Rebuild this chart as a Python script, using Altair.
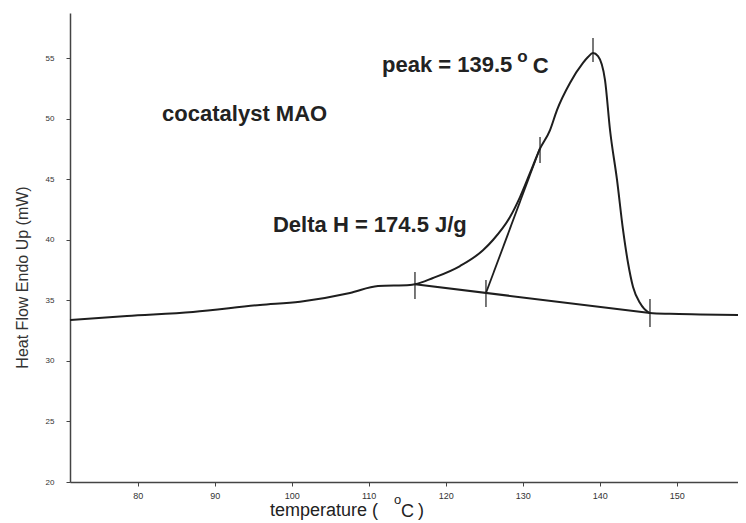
import altair as alt
import pandas as pd

# DSC curve (temperature in degC, heat flow in mW)
curve_t = [71.21, 78.61, 87.18, 95.88, 101.08, 107.57, 111.21, 115.36, 116.01, 118.35,
           121.86, 124.84, 126.14, 128.35, 129.65, 130.95, 132.25, 133.55, 134.45, 136.14,
           137.83, 138.48, 139.13, 139.78, 140.69, 141.34, 142.25, 143.03, 143.68, 144.33,
           145.24, 146.27, 146.53, 149.13, 153.03, 157.96]
curve_hf = [33.39, 33.72, 34.05, 34.63, 34.90, 35.62, 36.20, 36.28, 36.34, 36.86,
            37.85, 39.15, 40.00, 41.90, 43.55, 45.54, 47.55, 49.09, 50.74, 52.98,
            54.63, 55.12, 55.45, 55.20, 53.22, 49.09, 44.96, 40.83, 38.10, 36.12,
            34.79, 34.05, 33.97, 33.90, 33.85, 33.80]

# integration baseline and onset tangent
base_t = [116.01, 146.53]
base_hf = [36.34, 33.97]
tan_t = [125.23, 132.25]
tan_hf = [35.62, 47.60]

# vertical marker ticks
mark_t = [116.01, 125.23, 132.25, 139.13, 146.53]
mark_lo = [35.12, 34.46, 46.36, 54.71, 32.81]
mark_hi = [37.36, 36.69, 48.51, 56.69, 35.12]

# annotations
ann_text = ["cocatalyst MAO", "Delta H = 174.5 J/g", "peak = 139.5", "C"]
ann_t = [83.17, 97.57, 111.73, 131.3]
ann_hf = [49.83, 40.66, 53.88, 53.80]
sup_text = ["o"]
sup_t = [129.3]
sup_hf = [54.75]

x_ticks = [80, 90, 100, 110, 120, 130, 140, 150]
y_ticks = [20, 25, 30, 35, 40, 45, 50, 55]

X_DOMAIN = [71.21, 157.96]
Y_DOMAIN = [20, 58.76]
W, H = 668, 469
INK = "#1e1e1e"

curve_df = pd.DataFrame({"t": curve_t, "hf": curve_hf, "i": range(len(curve_t))})
base_df = pd.DataFrame({"t": base_t, "hf": base_hf})
tan_df = pd.DataFrame({"t": tan_t, "hf": tan_hf})
mark_df = pd.DataFrame({"t": mark_t, "lo": mark_lo, "hi": mark_hi})
ann_df = pd.DataFrame({"label": ann_text, "t": ann_t, "hf": ann_hf})
sup_df = pd.DataFrame({"label": sup_text, "t": sup_t, "hf": sup_hf})

xs = alt.Scale(domain=X_DOMAIN, nice=False, zero=False)
ys = alt.Scale(domain=Y_DOMAIN, nice=False, zero=False)

x_enc = alt.X("t:Q", scale=xs,
              axis=alt.Axis(values=x_ticks, title=None, grid=False, tickSize=4,
                            labelPadding=5, labelFontSize=9, labelColor="#333",
                            domainColor="#444", tickColor="#444", domainWidth=1.5))
y_enc = alt.Y("hf:Q", scale=ys,
              axis=alt.Axis(values=y_ticks, title="Heat Flow Endo Up (mW)", grid=False,
                            tickSize=4, labelPadding=12, labelFontSize=8, labelColor="#333",
                            domainColor="#444", tickColor="#444", domainWidth=1.5,
                            titleFontSize=16, titleFontWeight="normal", titleColor="#333",
                            titleAngle=270, titleX=-43, titleY=264,
                            titleAlign="center", titleBaseline="alphabetic"))

curve = alt.Chart(curve_df).mark_line(color=INK, strokeWidth=2, interpolate="monotone").encode(
    x=x_enc, y=y_enc, order="i:Q")
base = alt.Chart(base_df).mark_line(color=INK, strokeWidth=2).encode(
    x=alt.X("t:Q", scale=xs), y=alt.Y("hf:Q", scale=ys))
tang = alt.Chart(tan_df).mark_line(color=INK, strokeWidth=1.8).encode(
    x=alt.X("t:Q", scale=xs), y=alt.Y("hf:Q", scale=ys))
marks = alt.Chart(mark_df).mark_rule(color=INK, strokeWidth=1.2).encode(
    x=alt.X("t:Q", scale=xs), y=alt.Y("lo:Q", scale=ys), y2="hi:Q")
ann = alt.Chart(ann_df).mark_text(
    align="left", baseline="alphabetic", font="Liberation Sans", fontSize=22,
    fontWeight="bold", color="#222").encode(
    x=alt.X("t:Q", scale=xs), y=alt.Y("hf:Q", scale=ys), text="label:N")
sup = alt.Chart(sup_df).mark_text(
    align="left", baseline="alphabetic", font="Liberation Sans", fontSize=17,
    fontWeight="bold", color="#222").encode(
    x=alt.X("t:Q", scale=xs), y=alt.Y("hf:Q", scale=ys), text="label:N")

# x-axis title with superscript o and lowered C
xt_label = ["temperature (", "o", "C", ")"]
xt_px = [200, 324, 331, 348]
xt_py = [503, 491, 504, 503]
xt_fs = [18, 13, 18, 18]
xtitle = alt.layer(*[
    alt.Chart(pd.DataFrame({"label": [xt_label[k]]})).mark_text(
        align="left", baseline="alphabetic", font="Liberation Sans",
        fontSize=xt_fs[k], color="#222").encode(
        x=alt.value(xt_px[k]), y=alt.value(xt_py[k]), text="label:N")
    for k in range(len(xt_label))
])

chart = alt.layer(curve, base, tang, marks, ann, sup, xtitle).properties(
    width=W, height=H,
    autosize=alt.AutoSizeParams(type="none"),
    padding={"left": 62, "top": 5, "right": 0, "bottom": 40},
    background="white",
).configure_view(stroke=None).configure_axis(
    labelFont="Liberation Sans", titleFont="Liberation Sans")

chart.save("out.html", embed_options={"renderer": "svg", "actions": False})
